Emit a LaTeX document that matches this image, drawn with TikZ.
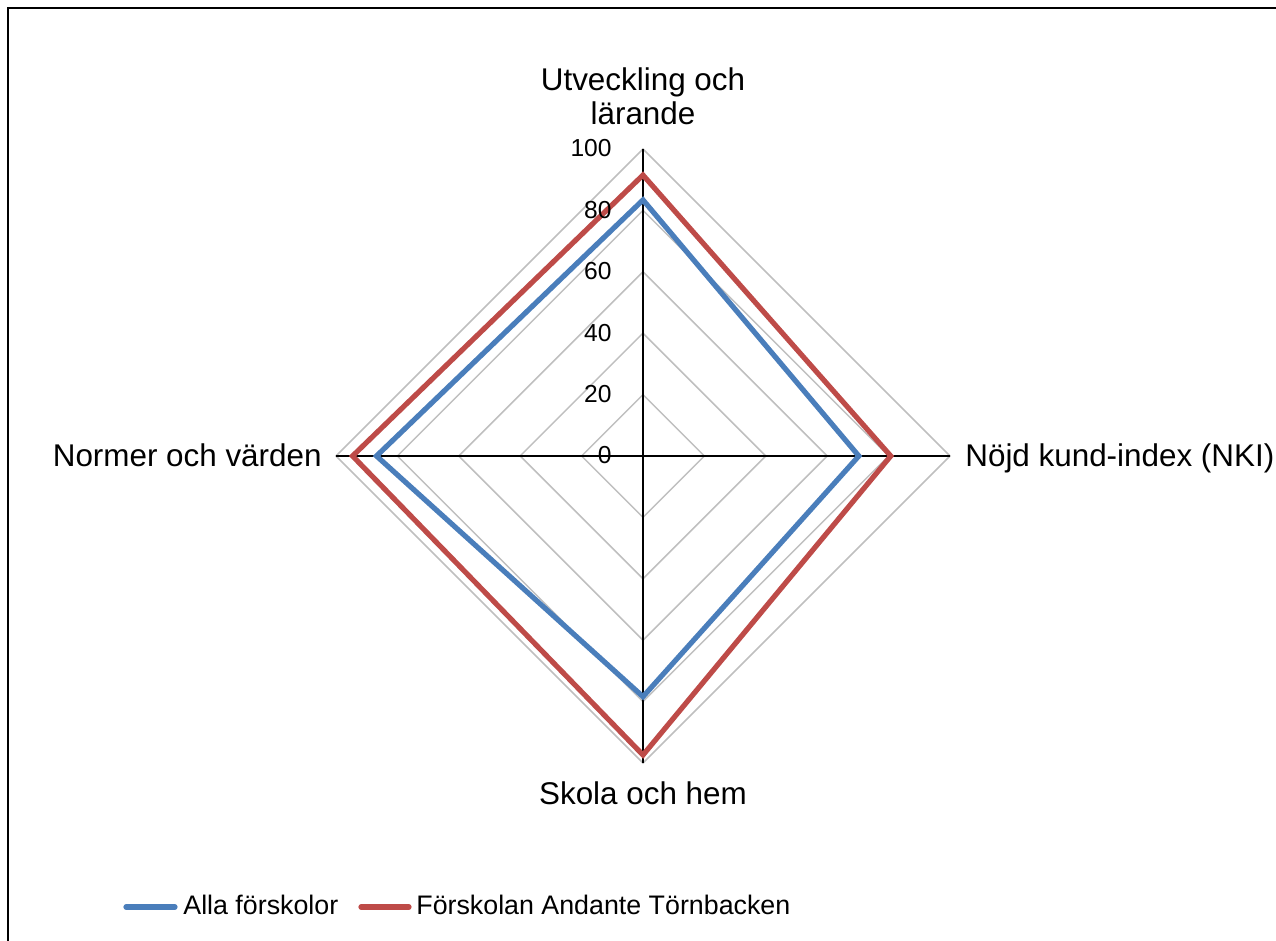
\documentclass[tikz,border=0pt]{standalone}
\usepackage{fontspec}
\setmainfont{Liberation Sans}
\definecolor{seriesblue}{HTML}{4A7EBB}
\definecolor{seriesred}{HTML}{BE4B48}
\definecolor{gridgray}{HTML}{BFBFBF}

\begin{document}
\begin{tikzpicture}[x=0.5pt, y=0.5pt, declare function={ pos(\v) = 3.07*\v; },
  frame/.style={line width=1pt},
  gridline/.style={gridgray, line width=0.75pt},
  axisline/.style={line width=1.1pt},
  series/.style={line width=2.6pt, line join=miter},
  legline/.style={line width=2.6pt, line cap=round},
  ticklabel/.style={anchor=base east, inner sep=0, font=\fontsize{12.3}{14}\selectfont},
  catlabel/.style={inner sep=0, font=\fontsize{15.7}{17}\selectfont},
  legtext/.style={anchor=base west, inner sep=0, font=\fontsize{13.4}{15}\selectfont}]
\useasboundingbox (-643, -485) rectangle (633, 456);
\draw [frame] (-635, -485) -- (-635, 448) -- (633, 448);
\foreach \v in {20, 40, ..., 100} {
	\draw [gridline] (90:{pos(\v)}) -- (0:{pos(\v)}) -- (-90:{pos(\v)}) -- (180:{pos(\v)}) -- cycle;
}
\coordinate (c) at (0, 0);
\foreach \name/\ang in {top/90, rgt/0, bot/-90, lft/180} {
	\coordinate (\name) at (\ang:{pos(100)});
	\draw [axisline] (c) -- (\name);
}
\foreach \clr/\a/\b/\c/\d in {
	seriesblue/83.4/70.3/78.4/86.8,
	seriesred/91.5/80.7/97.4/94.6
	} {
	\draw [series, \clr] (90:{pos(\a)}) -- (0:{pos(\b)}) -- (-90:{pos(\c)}) -- (180:{pos(\d)}) -- cycle;
}
\foreach \v in {0, 20, ..., 100} {
	\node (tick\v) [ticklabel] at (-31, {pos(\v) - 8}) {\v};
}
\node (utv) [catlabel, anchor=base, align=center] at (0, 331) {Utveckling och\\lärande};
\node (nki) [catlabel, anchor=base west] at (322, -11) {Nöjd kund-index (NKI)};
\node (skola) [catlabel, anchor=base] at (0, -349) {Skola och hem};
\node (normer) [catlabel, anchor=base east] at (-321, -11) {Normer och värden};
\draw [legline, seriesblue] (-517, -451) -- (-468, -451);
\node (alla) [legtext] at (-460, -459) {Alla förskolor};
\draw [legline, seriesred] (-282, -451) -- (-234, -451);
\node (andante) [legtext] at (-227, -459) {Förskolan Andante Törnbacken};
\end{tikzpicture}
\end{document}
